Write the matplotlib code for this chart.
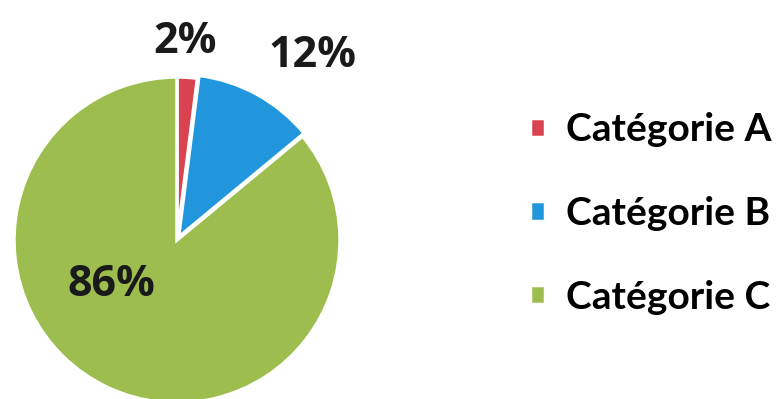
import numpy as np
import matplotlib
matplotlib.use('Agg')
from matplotlib import pyplot as plt

categories = ['Catégorie A', 'Catégorie B', 'Catégorie C']
values = [2, 12, 86]
pct_labels = ['2%', '12%', '86%']
colors = ['#D9434F', '#2196DC', '#9DBE4E']

fig = plt.figure(figsize=(7.78, 3.99), dpi=100)
fig.patch.set_facecolor('white')

# pie axes: centre ~ (177, 240) px, radius ~ 163 px
W, H = 778, 399
cx, cy, r = 177, 240, 163
ax = fig.add_axes([(cx - r) / W, (H - cy - r) / H, 2 * r / W, 2 * r / H])
wedges, _ = ax.pie(values, colors=colors, startangle=90, counterclock=False,
                   explode=[0.0, 0.02, 0.0],
                   wedgeprops=dict(edgecolor='white', linewidth=2.5))
ax.set_xlim(-1, 1)
ax.set_ylim(-1, 1)
ax.set_aspect('equal')
ax.axis('off')

# percent labels (positions relative to pie centre, in radius units)
label_pos = [(0.05, 1.22), (0.83, 1.13), (-0.40, -0.27)]
for txt, (x, y) in zip(pct_labels, label_pos):
    ax.text(x, y, txt, ha='center', va='center', fontsize=31,
            fontweight='bold', family='Open Sans', color='#1a1a1a',
            clip_on=False)

fig.legend(wedges, categories, loc='center left', bbox_to_anchor=(530 / W, 0.465),
           frameon=False, borderpad=0, borderaxespad=0,
           handlelength=0.38, handleheight=0.38,
           handletextpad=0.55, labelspacing=1.25,
           prop={'family': 'Lato', 'size': 28, 'weight': 'bold'})

fig.savefig('out.png', dpi=100)
